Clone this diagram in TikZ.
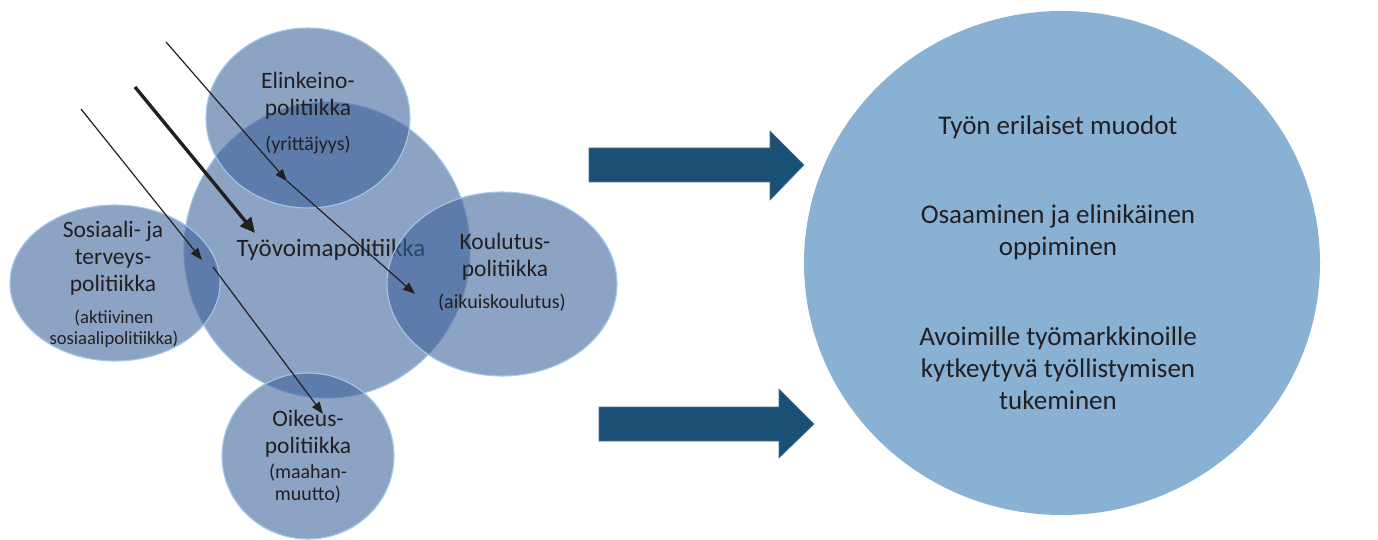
\documentclass[tikz,border=0pt]{standalone}
\usepackage{fontspec}
\setmainfont{Carlito}
\usetikzlibrary{shapes.geometric,arrows.meta}
\definecolor{blobfill}{RGB}{58,95,152}
\definecolor{blobline}{RGB}{160,200,235}
\definecolor{goalfill}{RGB}{136,177,212}
\definecolor{blockblue}{RGB}{27,80,118}
\definecolor{ink}{RGB}{35,31,32}
\tikzset{
  blob/.style={ellipse, inner sep=0pt, fill=blobfill, fill opacity=0.575,
    draw=blobline, draw opacity=1, line width=1.1pt},
  lbl/.style={text=ink, align=center, inner sep=0pt,
    font=\fontsize{23.5}{27}\selectfont},
  sub/.style={text=ink, align=center, inner sep=0pt,
    font=\fontsize{20}{22}\selectfont},
  goal/.style={text=ink, align=center, inner sep=0pt,
    font=\fontsize{27}{32}\selectfont},
  thin/.style={draw=ink, line width=1.2pt, -{Triangle[length=12pt,width=9pt]}},
  thick/.style={draw=ink, line width=3.4pt, -{Triangle[length=15pt,width=14pt]}},
  block/.style={fill=blockblue, draw=blockblue!80!white, line width=0.6pt}
}
\begin{document}
\begin{tikzpicture}[x=1pt,y=-1pt]
\useasboundingbox (0,0) rectangle (1378,540);

% central policy area
\node[blob, minimum width=286pt, minimum height=296pt] (tyo) at (327,250) {};
\node[lbl, font=\fontsize{25}{29}\selectfont] (tyot) at (331,250) {Työvoimapolitiikka};

% surrounding policy areas
\node[blob, minimum width=204pt, minimum height=180pt] (elin) at (308,118) {};
\node[lbl] (elint) at (308,96) {Elinkeino-\\politiikka};
\node[sub] (elins) at (308,145) {(yrittäjyys)};

\node[blob, minimum width=210pt, minimum height=156pt] (sos) at (115,283) {};
\node[lbl] (sost) at (113,258) {Sosiaali- ja\\terveys-\\politiikka};
\node[sub, font=\fontsize{18.6}{21}\selectfont] (soss) at (114,329) {(aktiivinen\\sosiaalipolitiikka)};

\node[blob, minimum width=230pt, minimum height=184pt] (kou) at (502,284) {};
\node[lbl] (kout) at (505,257) {Koulutus-\\politiikka};
\node[sub] (kous) at (502,303) {(aikuiskoulutus)};

\node[blob, minimum width=172pt, minimum height=166pt] (oik) at (308,456) {};
\node[lbl] (oikt) at (308,434) {Oikeus-\\politiikka};
\node[sub] (oiks) at (308,484) {(maahan-\\muutto)};

% influence arrows
\coordinate (a0) at (166,42);
\coordinate (a1) at (287,181);
\coordinate (a2) at (415,294);
\coordinate (b0) at (135,87);
\coordinate (b1) at (255,233);
\coordinate (c0) at (81,109);
\coordinate (c1) at (202,260);
\coordinate (c2) at (213,267);
\coordinate (c3) at (323,414);
\draw[thin] (a0) -- (a1);
\draw[thin] (a1) -- (a2);
\draw[thick] (b0) -- (b1);
\draw[thin] (c0) -- (c1);
\draw[thin] (c2) -- (c3);

% block arrows towards the goals
\draw[block] (589,148) -- (770,148) -- (770,131) -- (804,165) -- (770,200)
  -- (770,182) -- (589,182) -- cycle;
\draw[block] (599,407) -- (779,407) -- (779,389) -- (814,424) -- (779,458)
  -- (779,441) -- (599,441) -- cycle;

% goals
\node[ellipse, inner sep=0pt, fill=goalfill, minimum width=516pt,
  minimum height=504pt] (goals) at (1062,263) {};
\node[goal] (g1) at (1058,127) {Työn erilaiset muodot};
\node[goal] (g2) at (1058,232) {Osaaminen ja elinikäinen\\oppiminen};
\node[goal] (g3) at (1058,368) {Avoimille työmarkkinoille\\kytkeytyvä työllistymisen\\tukeminen};
\end{tikzpicture}
\end{document}
